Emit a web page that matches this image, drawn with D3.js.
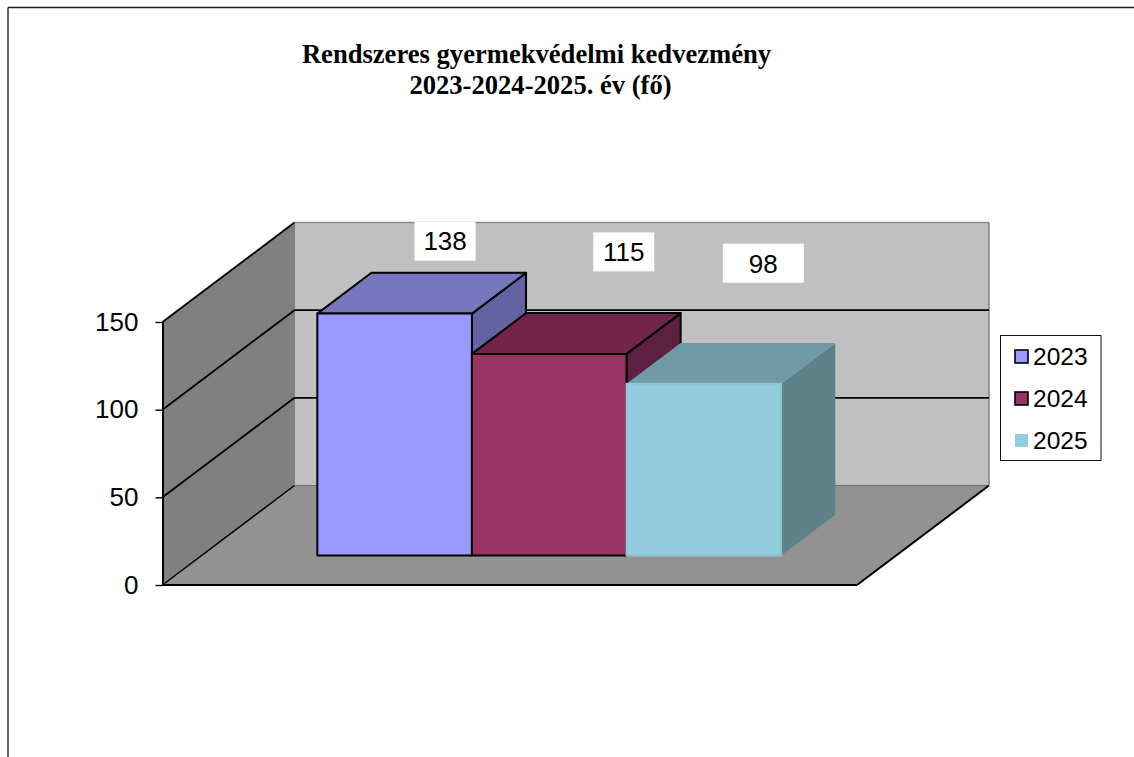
<!DOCTYPE html>
<html><head><meta charset="utf-8">
<script src="https://cdn.jsdelivr.net/npm/d3@7/dist/d3.min.js"></script>
<style>html,body{margin:0;padding:0;background:#fff;overflow:hidden}svg{display:block}</style>
</head><body><svg id="c" width="1134" height="757"></svg>
<script>
const titleLines = ["Rendszeres gyermekvédelmi kedvezmény", "2023-2024-2025. év (fő)"];
const years = ["2023", "2024", "2025"];
const values = [138, 115, 98];
const yTicks = [0, 50, 100, 150];
const frontColors = ["#9999FF", "#993366", "#93CDDD"];
const topColors = ["#7777BE", "#722449", "#7099A7"];
const sideColors = ["#6363A3", "#5E2040", "#5F818A"];
const edgeColors = ["#000", "#000", "#8FC3D2"];

const svg = d3.select("#c");
const W = { x0: 162.5, x1: 857, y0: 585, y1: 322, dx: 132, dy: -99.5 };
const y = d3.scaleLinear().domain([0, 150]).range([W.y0, W.y1]);
const x = d3.scaleBand().domain(years).range([W.x0 + 0.4, W.x1 + 0.4]).paddingInner(0).paddingOuter(0.746);
const depth = t => [W.dx * t, W.dy * t];
const P = (px, v, t) => { const d = depth(t); return [px + d[0], y(v) + d[1]]; };
const poly = (pts, fill, stroke, sw) => svg.append("polygon")
  .attr("points", pts.map(p => p.join(",")).join(" "))
  .attr("fill", fill).attr("stroke", stroke || "none").attr("stroke-width", sw || 0)
  .attr("stroke-linejoin", "round");
const seg = (a, b, stroke, sw) => svg.append("line")
  .attr("x1", a[0]).attr("y1", a[1]).attr("x2", b[0]).attr("y2", b[1])
  .attr("stroke", stroke).attr("stroke-width", sw);

// outer frame
seg([8, 7.5], [1134, 7.5], "#222", 1.4);
seg([8, 7.5], [8, 757], "#222", 1.4);

// title
const title = svg.append("text").attr("text-anchor", "middle")
  .attr("font-family", "'Liberation Serif',serif").attr("font-weight", "bold")
  .attr("font-size", 26.6).attr("fill", "#000");
titleLines.forEach((t, i) => title.append("tspan").attr("x", 536.5 + i * 4).attr("y", 63 + i * 31).text(t));

// walls
const a = W.x0, b = W.x1;
poly([P(a,0,1), P(b,0,1), P(b,150,1), P(a,150,1)], "#C0C0C0");
poly([P(a,0,0), P(a,0,1), P(a,150,1), P(a,150,0)], "#808080");
poly([P(a,0,0), P(b,0,0), P(b,0,1), P(a,0,1)], "#929292");

// wall edges and gridlines
seg(P(a,150,1), P(b,150,1), "#8a8a8a", 1.5);
seg(P(b,0,1), P(b,150,1), "#808080", 1.5);
seg(P(a,0,1), P(b,0,1), "#6e6e6e", 1.2);
seg(P(a,0,1), P(a,150,1), "#808080", 1);
yTicks.filter(v => v > 0 && v < 150).forEach(v => {
  seg(P(a,v,0), P(a,v,1), "#000", 1.8);
  seg(P(a,v,1), P(b,v,1), "#000", 1.8);
});
seg(P(a,150,0), P(a,150,1), "#000", 1.8);
seg(P(a,0,0), P(a,0,1), "#000", 1.5);
seg(P(a,0,0), P(b,0,0), "#000", 2);
seg(P(b,0,0), P(b,0,1), "#000", 2);

// y axis
const axis = svg.append("g").attr("transform", `translate(${W.x0},0)`)
  .call(d3.axisLeft(y).tickValues(yTicks).tickSize(7).tickPadding(17).tickSizeOuter(0));
axis.select(".domain").attr("stroke", "#000").attr("stroke-width", 2);
axis.selectAll(".tick line").attr("stroke", "#000").attr("stroke-width", 1.4);
axis.selectAll(".tick text").attr("font-family", "'Liberation Sans',Arial,sans-serif")
  .attr("font-size", 26).attr("fill", "#000");

// bars
const tFront = 0.296, tBack = 0.706;
years.forEach((yr, i) => {
  const l = x(yr), r = l + x.bandwidth(), v = values[i], e = edgeColors[i];
  const sw = 2;
  poly([P(r,0,tFront), P(r,0,tBack), P(r,v,tBack), P(r,v,tFront)], sideColors[i], i === 2 ? "none" : e, sw);
  poly([P(l,v,tFront), P(r,v,tFront), P(r,v,tBack), P(l,v,tBack)], topColors[i], i === 2 ? "none" : e, sw);
  poly([P(l,0,tFront), P(r,0,tFront), P(r,v,tFront), P(l,v,tFront)], frontColors[i], e, sw);
});

// value labels (hand-placed in the original, offset from each bar's top-front centre)
const labelLayout = [
  { dx: 50.5, dy: -72.5, w: 61, h: 39 },
  { dx: 74.5, dy: -102, w: 61, h: 39 },
  { dx: 59.5, dy: -120.5, w: 81, h: 39 }
];
years.forEach((yr, i) => {
  const p = P(x(yr) + x.bandwidth() / 2, values[i], tFront), o = labelLayout[i];
  const cx = p[0] + o.dx, cy = p[1] + o.dy;
  svg.append("rect").attr("x", cx - o.w / 2).attr("y", cy - o.h / 2)
    .attr("width", o.w).attr("height", o.h).attr("fill", "#fff");
  svg.append("text").attr("x", cx).attr("y", cy).attr("dy", "0.36em").attr("text-anchor", "middle")
    .attr("font-family", "'Liberation Sans',Arial,sans-serif").attr("font-size", 26)
    .attr("fill", "#000").text(values[i]);
});

// legend
svg.append("rect").attr("x", 1000.5).attr("y", 335.5).attr("width", 100.5).attr("height", 125)
  .attr("fill", "#fff").attr("stroke", "#111").attr("stroke-width", 1);
const ly = d3.scalePoint().domain(years).range([356.5, 440.5]);
years.forEach((yr, i) => {
  svg.append("rect").attr("x", 1015).attr("y", ly(yr) - 6.5).attr("width", 13).attr("height", 13)
    .attr("fill", frontColors[i]).attr("stroke", i === 2 ? "none" : "#000").attr("stroke-width", 1.6);
  svg.append("text").attr("x", 1033).attr("y", ly(yr)).attr("dy", "0.36em")
    .attr("font-family", "'Liberation Sans',Arial,sans-serif").attr("font-size", 24.5)
    .attr("fill", "#000").text(yr);
});
</script></body></html>
